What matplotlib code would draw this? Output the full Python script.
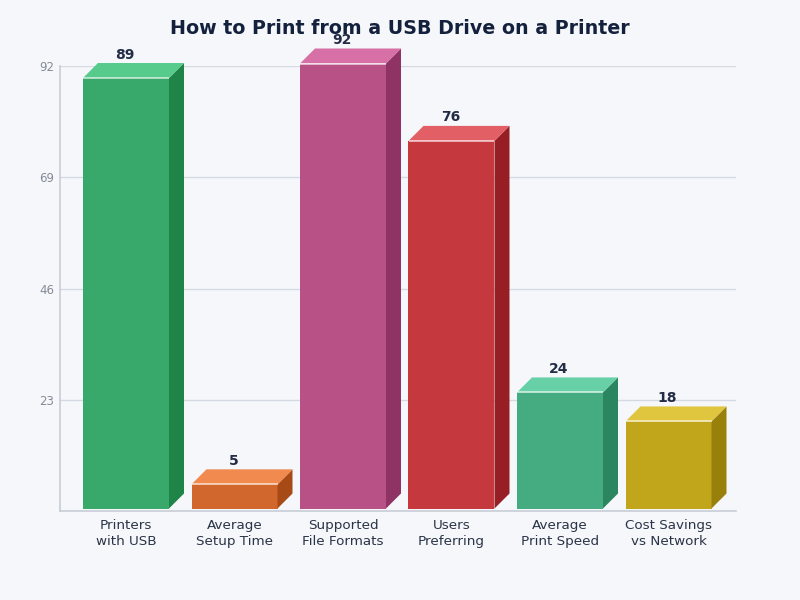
import matplotlib
matplotlib.use("Agg")
import matplotlib.pyplot as plt
from matplotlib.patches import Polygon

labels = ["Printers\nwith USB", "Average\nSetup Time", "Supported\nFile Formats",
          "Users\nPreferring", "Average\nPrint Speed", "Cost Savings\nvs Network"]
values = [89, 5, 92, 76, 24, 18]
tick_vals = [23, 46, 69, 92]

front_cols = ["#38a96a", "#d2672e", "#b85185", "#c4383e", "#45ac82", "#c1a51b"]
side_cols = ["#1f8447", "#a84a16", "#8e3364", "#961e24", "#2b855f", "#98800a"]
top_cols = ["#56cb8c", "#f08a4e", "#d670a6", "#e35f66", "#68d0a6", "#e0c53f"]

bg = "#f5f7fb"
W, H = 800, 600

fig = plt.figure(figsize=(8, 6), dpi=100, facecolor=bg)
# axes box in pixels: x 60-736, y 66-511
ax = fig.add_axes([60 / W, 1 - 511 / H, 676 / W, 445 / H], facecolor=bg)

px_x = 108.5  # pixels per bar slot
px_y = 445 / 92  # pixels per value unit
bar_w = 86 / px_x
dx = 15 / px_x
dy = 15 / px_y
base = 2.5 / px_y  # bars float a little above the axis line

ax.set_xlim(-66 / px_x, 610 / px_x)
ax.set_ylim(0, 92)

ax.set_yticks(tick_vals)
ax.set_yticklabels([str(v) for v in tick_vals], fontsize=8.5, color="#858b97")
ax.set_xticks(range(len(labels)))
ax.set_xticklabels(labels, fontsize=9.7, color="#2b3447", linespacing=1.32)
ax.tick_params(axis="both", length=0)
ax.tick_params(axis="x", pad=5.5)
ax.tick_params(axis="y", pad=4)
ax.grid(axis="y", color="#d5d9e2", linewidth=1)
ax.set_axisbelow(True)

for s in ["top", "right"]:
    ax.spines[s].set_visible(False)
for s in ["left", "bottom"]:
    ax.spines[s].set_color("#c8ccd6")
    ax.spines[s].set_linewidth(1.2)

for i, v in enumerate(values):
    l = i - bar_w / 2
    r = i + bar_w / 2
    t = v + base
    ax.bar(i, v, bottom=base, width=bar_w, color=front_cols[i], zorder=3, clip_on=False)
    ax.add_patch(Polygon([(r, base), (r + dx, base + dy), (r + dx, t + dy), (r, t)],
                         closed=True, facecolor=side_cols[i], edgecolor="none",
                         zorder=3, clip_on=False))
    ax.add_patch(Polygon([(l, t), (l + dx, t + dy), (r + dx, t + dy), (r, t)],
                         closed=True, facecolor=top_cols[i], edgecolor="none",
                         zorder=3, clip_on=False))
    # thin light edge along the top of the front face
    ax.plot([l, r], [t, t], color="white", alpha=0.7, linewidth=1.2, zorder=4,
            clip_on=False, solid_capstyle="butt")
    ax.text(i - 0.01, t + dy + 0.3, str(v), ha="center", va="bottom", fontsize=10,
            fontweight="bold", color="#232c44", zorder=5, clip_on=False)

fig.text(399.5 / W, 1 - 28 / H, "How to Print from a USB Drive on a Printer",
         ha="center", va="center", fontsize=13.7, fontweight="bold", color="#14213d")

fig.savefig("out.png", dpi=100, facecolor=bg)
